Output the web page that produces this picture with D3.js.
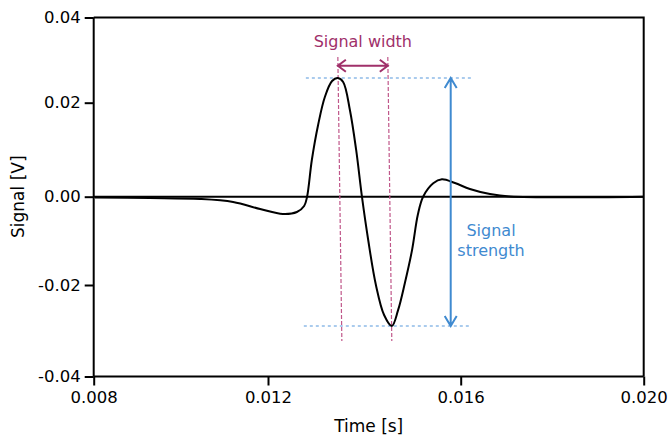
<!DOCTYPE html>
<html>
<head>
<meta charset="utf-8">
<script src="https://cdn.jsdelivr.net/npm/d3@7"></script>
<style>
  body { margin: 0; background: #fff; }
  svg text { font-family: "DejaVu Sans", Verdana, sans-serif; }
</style>
</head>
<body>
<div id="chart"></div>
<script>
// signal trace (time in s, signal in V)
var time = [0.00803, 0.00929, 0.01044, 0.01120, 0.01182, 0.01231, 0.01260, 0.01275,
    0.01281, 0.01291, 0.01304, 0.01318, 0.01333, 0.01345, 0.01356, 0.01370,
    0.01383, 0.01395, 0.01408, 0.01424, 0.01441, 0.01457, 0.01470, 0.01484,
    0.01499, 0.01511, 0.01522, 0.01543, 0.01561, 0.01588, 0.01620, 0.01664,
    0.01708, 0.02000];
var signal = [-0.00018, -0.0003, -0.00052, -0.0012, -0.00279, -0.00392, -0.00347, -0.00211,
    -0.00007, 0.00781, 0.01526, 0.02134, 0.02509, 0.0258, 0.02486, 0.01845,
    0.00994, 0.0, -0.00981, -0.02, -0.02656, -0.02896, -0.0255, -0.0196,
    -0.0121, -0.0041, 0.0, 0.00285, 0.0037, 0.00291, 0.00164, 0.00057,
    0.00004, 0.0];
var xTicks = [0.008, 0.012, 0.016, 0.020];
var yTicks = [-0.04, -0.02, 0, 0.02, 0.04];

var width = 669,
    height = 437;

var svg = d3.select("#chart").append("svg")
    .attr("width", width)
    .attr("height", height);

// the original axes are not evenly spaced, so use piecewise scales
var xScale = d3.scaleLinear()
    .domain(xTicks)
    .range([93.7, 268, 460.7, 643.7]);

var yScale = d3.scaleLinear()
    .domain(yTicks)
    .range([376.5, 285, 196.7, 102.7, 17.5]);

var data = time.map(function(t, i){ return {t: t, v: signal[i]}; });

// axes
var xAxis = svg.append("g")
    .attr("transform", "translate(0," + yScale(-0.04) + ")")
    .call(d3.axisBottom(xScale).tickValues(xTicks).tickSize(9).tickPadding(6)
        .tickFormat(d3.format(".3f")));
var yAxis = svg.append("g")
    .attr("transform", "translate(" + xScale(0.008) + ",0)")
    .call(d3.axisLeft(yScale).tickValues(yTicks).tickSize(9).tickPadding(4)
        .tickFormat(function(d){ return d.toFixed(2).replace("-0.00", "0.00"); }));

[xAxis, yAxis].forEach(function(g){
    g.select(".domain").attr("stroke", "#000").attr("stroke-width", 2);
    g.selectAll(".tick line").attr("stroke", "#000").attr("stroke-width", 2);
    g.selectAll(".tick text").attr("fill", "#000")
        .style("font-size", "16.5px");
});
xAxis.select(".domain").attr("d", "M" + xScale(0.008) + ",0H" + xScale(0.020));
yAxis.select(".domain").attr("d", "M0," + yScale(-0.04) + "V" + yScale(0.04));

// top and right frame
svg.append("path")
    .attr("d", "M" + xScale(0.008) + "," + yScale(0.04) + "H" + xScale(0.020)
        + "V" + yScale(-0.04))
    .attr("fill", "none")
    .attr("stroke", "#000")
    .attr("stroke-width", 2);

// zero line
svg.append("line")
    .attr("x1", xScale(0.008)).attr("x2", xScale(0.020))
    .attr("y1", yScale(0)).attr("y2", yScale(0))
    .attr("stroke", "#000")
    .attr("stroke-width", 2);

// axis titles
svg.append("text")
    .attr("x", (xScale(0.008) + xScale(0.020)) / 2)
    .attr("y", 432)
    .attr("text-anchor", "middle")
    .style("font-size", "17px")
    .text("Time [s]");
svg.append("text")
    .attr("transform", "translate(24," + yScale(0) + ") rotate(-90)")
    .attr("text-anchor", "middle")
    .style("font-size", "17px")
    .text("Signal [V]");

// peak and trough
var peak = data.reduce(function(a, b){ return b.v > a.v ? b : a; });
var trough = data.reduce(function(a, b){ return b.v < a.v ? b : a; });
var px = xScale(peak.t), py = yScale(peak.v),
    tx = xScale(trough.t), ty = yScale(trough.v);

var pink = "#a0306a", pinkLine = "#c0578a",
    blue = "#3f8ad0", blueLine = "#8fbbe8";

// dotted guides
svg.append("line")
    .attr("x1", px - 32).attr("x2", tx + 80)
    .attr("y1", py).attr("y2", py)
    .attr("stroke", blueLine).attr("stroke-width", 1.5)
    .attr("stroke-dasharray", "3,3");
svg.append("line")
    .attr("x1", tx - 88).attr("x2", tx + 78)
    .attr("y1", ty).attr("y2", ty)
    .attr("stroke", blueLine).attr("stroke-width", 1.5)
    .attr("stroke-dasharray", "3,3");
svg.append("line")
    .attr("x1", px).attr("x2", px + 4)
    .attr("y1", 57).attr("y2", 341)
    .attr("stroke", pinkLine).attr("stroke-width", 1.2)
    .attr("stroke-dasharray", "4,2");
svg.append("line")
    .attr("x1", tx - 4).attr("x2", tx)
    .attr("y1", 57).attr("y2", 341)
    .attr("stroke", pinkLine).attr("stroke-width", 1.2)
    .attr("stroke-dasharray", "4,2");

// signal trace
var line = d3.line()
    .x(function(d){ return xScale(d.t); })
    .y(function(d){ return yScale(d.v); })
    .curve(d3.curveCatmullRom.alpha(0.5));
svg.append("path")
    .datum(data)
    .attr("d", line)
    .attr("fill", "none")
    .attr("stroke", "#000")
    .attr("stroke-width", 2);

// width arrow
var ay = 65.7, ax1 = px, ax2 = tx - 4;
svg.append("path")
    .attr("d", "M" + ax1 + "," + ay + "H" + ax2
        + "M" + (ax1 + 8) + "," + (ay - 6) + "L" + ax1 + "," + ay + "L" + (ax1 + 8) + "," + (ay + 6)
        + "M" + (ax2 - 8) + "," + (ay - 6) + "L" + ax2 + "," + ay + "L" + (ax2 - 8) + "," + (ay + 6))
    .attr("fill", "none")
    .attr("stroke", pink)
    .attr("stroke-width", 2);
svg.append("text")
    .attr("x", (ax1 + ax2) / 2)
    .attr("y", 47)
    .attr("text-anchor", "middle")
    .attr("fill", pink)
    .style("font-size", "16px")
    .text("Signal width");

// strength arrow
var sx = 450.7;
svg.append("path")
    .attr("d", "M" + sx + "," + py + "V" + ty
        + "M" + (sx - 6) + "," + (py + 10) + "L" + sx + "," + py + "L" + (sx + 6) + "," + (py + 10)
        + "M" + (sx - 6) + "," + (ty - 10) + "L" + sx + "," + ty + "L" + (sx + 6) + "," + (ty - 10))
    .attr("fill", "none")
    .attr("stroke", blue)
    .attr("stroke-width", 2);
var lab = svg.append("text")
    .attr("text-anchor", "middle")
    .attr("fill", blue)
    .style("font-size", "16px");
lab.append("tspan").attr("x", 491).attr("y", 236).text("Signal");
lab.append("tspan").attr("x", 491).attr("y", 256).text("strength");
</script>
</body>
</html>
